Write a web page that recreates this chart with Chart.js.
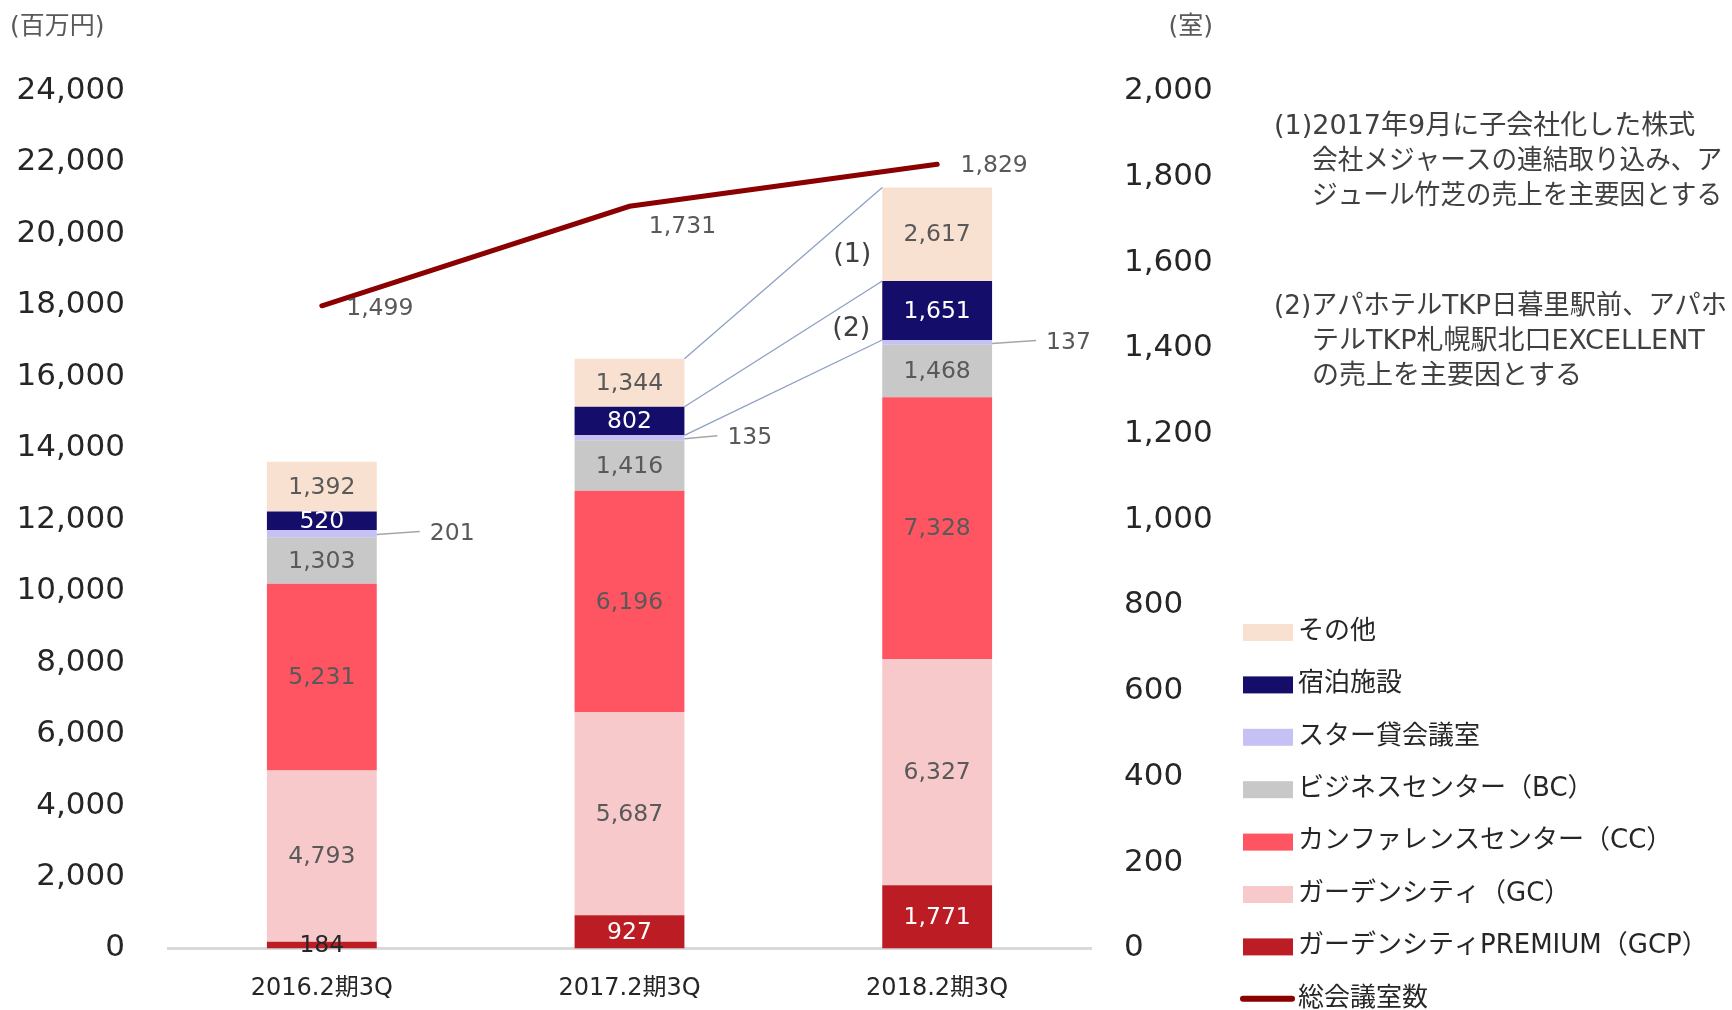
<!DOCTYPE html>
<html lang="ja">
<head>
<meta charset="utf-8">
<script src="https://cdn.jsdelivr.net/npm/chart.js@4.4.1/dist/chart.umd.min.js"></script>
<style>
html, body { margin: 0; padding: 0; background: #fff; }
#wrap { position: relative; width: 1732px; height: 1010px; }
</style>
</head>
<body>
<div id="wrap"><canvas id="c" width="1732" height="1010"></canvas></div>
<script>
// data (百万円 / 室)
var categories = ['2016.2期3Q', '2017.2期3Q', '2018.2期3Q'];
var gcp = [184, 927, 1771];
var gc = [4793, 5687, 6327];
var cc = [5231, 6196, 7328];
var bc = [1303, 1416, 1468];
var star = [201, 135, 137];
var shukuhaku = [520, 802, 1651];
var sonota = [1392, 1344, 2617];
var rooms = [1499, 1731, 1829];

var seriesNames = ['ガーデンシティPREMIUM（GCP）', 'ガーデンシティ（GC）', 'カンファレンスセンター（CC）',
    'ビジネスセンター（BC）', 'スター貸会議室', '宿泊施設', 'その他'];
var lineName = '総会議室数';
var leftUnit = '(百万円)';
var rightUnit = '(室)';
var note1 = ['(1)2017年9月に子会社化した株式', '会社メジャースの連結取り込み、ア', 'ジュール竹芝の売上を主要因とする'];
var note2 = ['(2)アパホテルTKP日暮里駅前、アパホ', 'テルTKP札幌駅北口EXCELLENT', 'の売上を主要因とする'];

var FONT = '"DejaVu Sans", "Noto Sans CJK JP", sans-serif';
var JP = '"DejaVu Sans", "Noto Sans CJK JP", sans-serif';

var colors = ['#BC1C24', '#F7C9CB', '#FF5462', '#C8C8C8', '#C5C1F4', '#140D69', '#F8E1D0'];
var barValues = [gcp, gc, cc, bc, star, shukuhaku, sonota];

var datasets = [{
    type: 'line',
    label: lineName,
    data: rooms,
    yAxisID: 'y1',
    borderColor: '#8B0000',
    backgroundColor: '#8B0000',
    borderWidth: 5,
    borderCapStyle: 'round',
    pointRadius: 0,
    tension: 0
}];
barValues.forEach(function (vals, i) {
    datasets.push({
        type: 'bar',
        label: seriesNames[i],
        data: vals,
        yAxisID: 'y',
        backgroundColor: colors[i],
        borderWidth: 0,
        categoryPercentage: 1,
        barPercentage: 0.357,
        leader: seriesNames[i] === 'スター貸会議室'
    });
});

// label placement tweaks (pixels)
var lineLabelOffsets = [[58, 3], [53, 21], [57, 2]];
var leaderLen = [43, 33, 44];

var overlay = {
    id: 'overlay',
    afterDatasetsDraw: function (chart) {
        var ctx = chart.ctx;
        ctx.save();
        ctx.textAlign = 'center';
        ctx.textBaseline = 'middle';
        ctx.font = '23.5px ' + FONT;

        // connector lines between 2017 and 2018 bars
        var idxSonota = 7, idxShuku = 6, idxStar = 5;
        ctx.strokeStyle = '#8EA0C2';
        ctx.lineWidth = 1.3;
        [idxSonota, idxShuku, idxStar].forEach(function (di) {
            var m = chart.getDatasetMeta(di).data;
            var a = m[1], b = m[2];
            ctx.beginPath();
            ctx.moveTo(a.x + a.width / 2, a.y);
            ctx.lineTo(b.x - b.width / 2, b.y);
            ctx.stroke();
        });

        chart.data.datasets.forEach(function (ds, di) {
            if (ds.type === 'line') return;
            var meta = chart.getDatasetMeta(di);
            meta.data.forEach(function (bar, i) {
                var txt = ds.data[i].toLocaleString('en-US');
                var cy = (bar.y + bar.base) / 2 + 1;
                var h = Math.abs(bar.base - bar.y);
                if (ds.leader) {
                    var x0 = bar.x + bar.width / 2;
                    ctx.strokeStyle = '#A6A6A6';
                    ctx.lineWidth = 1.5;
                    ctx.beginPath();
                    ctx.moveTo(x0, cy);
                    ctx.lineTo(x0 + leaderLen[i], cy - 3);
                    ctx.stroke();
                    ctx.fillStyle = '#595959';
                    ctx.textAlign = 'left';
                    ctx.fillText(txt, x0 + leaderLen[i] + 10, cy - 1);
                    ctx.textAlign = 'center';
                    return;
                }
                var dark = ds.backgroundColor === '#140D69' || ds.backgroundColor === '#BC1C24';
                if (h < 14) ctx.fillStyle = '#262626';
                else ctx.fillStyle = dark ? '#FFFFFF' : '#595959';
                ctx.fillText(txt, bar.x, cy);
            });
        });

        // line labels
        var lm = chart.getDatasetMeta(0).data;
        ctx.fillStyle = '#595959';
        lm.forEach(function (p, i) {
            ctx.fillText(rooms[i].toLocaleString('en-US'), p.x + lineLabelOffsets[i][0], p.y + lineLabelOffsets[i][1]);
        });

        // (1) (2) marks
        ctx.fillStyle = '#404040';
        ctx.font = '27px ' + FONT;
        var b2 = chart.getDatasetMeta(idxSonota).data[2];
        var s2 = chart.getDatasetMeta(idxShuku).data[2];
        ctx.fillText('(1)', b2.x - b2.width / 2 - 30, (b2.y + b2.base) / 2 + 21);
        ctx.fillText('(2)', s2.x - s2.width / 2 - 31, s2.base - 11);
        ctx.restore();
    },
    afterDraw: function (chart) {
        var ctx = chart.ctx;
        ctx.save();
        ctx.textBaseline = 'middle';
        ctx.fillStyle = '#595959';
        ctx.font = '25px ' + JP;
        ctx.textAlign = 'left';
        ctx.fillText(leftUnit, 10, 27);
        ctx.textAlign = 'right';
        ctx.fillText(rightUnit, 1213, 27);

        // notes
        ctx.fillStyle = '#404040';
        ctx.font = '27px ' + JP;
        ctx.textAlign = 'left';
        note1.forEach(function (t, i) {
            var x = i === 0 ? 1274 : 1312;
            ctx.fillText(t, x, 127 + i * 35, 1722 - x);
        });
        note2.forEach(function (t, i) {
            var x = i === 0 ? 1274 : 1312;
            ctx.fillText(t, x, 307 + i * 35, 1727 - x);
        });

        // legend
        ctx.font = '26px ' + JP;
        var order = [7, 6, 5, 4, 3, 2, 1, 0];
        order.forEach(function (di, r) {
            var ds = chart.data.datasets[di];
            var y = 632 + r * 52.4;
            if (ds.type === 'line') {
                ctx.strokeStyle = ds.borderColor;
                ctx.lineWidth = 6;
                ctx.lineCap = 'round';
                ctx.beginPath();
                ctx.moveTo(1243, y);
                ctx.lineTo(1292, y);
                ctx.stroke();
            } else {
                ctx.fillStyle = ds.backgroundColor;
                ctx.fillRect(1243, y - 8, 50, 17);
            }
            ctx.fillStyle = '#262626';
            ctx.fillText(ds.label, 1298, y);
        });
        ctx.restore();
    }
};

new Chart(document.getElementById('c').getContext('2d'), {
    data: { labels: categories, datasets: datasets },
    options: {
        responsive: false,
        animation: false,
        devicePixelRatio: 1,
        layout: { padding: { top: 91, right: 519, left: 0, bottom: 0 } },
        plugins: { legend: { display: false }, tooltip: { enabled: false } },
        scales: {
            x: {
                stacked: true,
                grid: { display: false, drawTicks: false },
                border: { display: true, color: '#D9D9D9', width: 3 },
                ticks: { color: '#262626', font: { family: FONT, size: 24 }, padding: 26 },
                afterFit: function (s) { s.height = 54; }
            },
            y: {
                stacked: true,
                position: 'left',
                min: 0, max: 24000,
                grid: { display: false, drawTicks: false },
                border: { display: false },
                ticks: {
                    stepSize: 2000, padding: 43, color: '#262626',
                    font: { family: FONT, size: 31 },
                    callback: function (v) { return v.toLocaleString('en-US'); }
                },
                afterFit: function (s) { s.width = 168; }
            },
            y1: {
                position: 'right',
                min: 0, max: 2000,
                grid: { display: false, drawTicks: false },
                border: { display: false },
                ticks: {
                    stepSize: 200, padding: 33, color: '#262626',
                    font: { family: FONT, size: 31 },
                    callback: function (v) { return v.toLocaleString('en-US'); }
                },
                afterFit: function (s) { s.width = 122; }
            }
        }
    },
    plugins: [overlay]
});
</script>
</body>
</html>
